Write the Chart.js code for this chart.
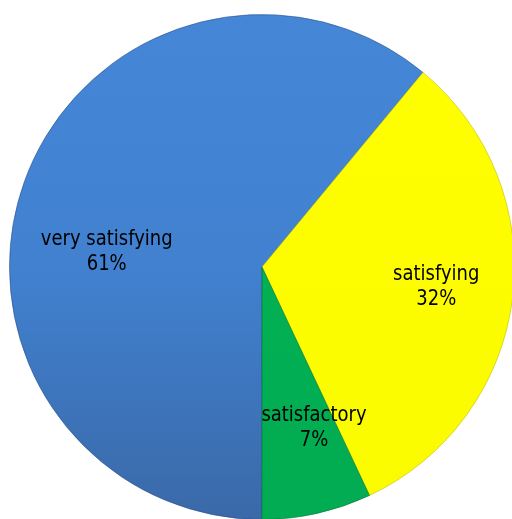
<!DOCTYPE html>
<html>
<head>
<meta charset="utf-8">
<script src="https://cdn.jsdelivr.net/npm/chart.js@4/dist/chart.umd.min.js"></script>
<style>
    html, body { margin: 0; padding: 0; background: #ffffff; overflow: hidden; }
    #wrap { width: 520px; height: 521px; }
</style>
</head>
<body>
<div id="wrap"><canvas id="chart" width="520" height="521"></canvas></div>
<script>
(function () {
    var categories = ['very satisfying', 'satisfying', 'satisfactory'];
    var values = [61, 32, 7];
    var percentLabels = ['61%', '32%', '7%'];

    // label anchor, as a fraction of the pie radius from its centre
    var labelOffsets = [[-0.615, -0.038], [0.690, 0.099], [0.206, 0.656]];

    var canvasElement = document.getElementById('chart');

    function sliceColor(context) {
        var chart = context.chart;
        var area = chart.chartArea;
        var i = context.dataIndex;
        if (!area) {
            return ['#4383d4', '#ffff00', '#00b050'][i];
        }
        var g = chart.ctx.createLinearGradient(0, area.top, 0, area.bottom);
        if (i === 0) {
            g.addColorStop(0, '#4586d7');
            g.addColorStop(0.5, '#4181d0');
            g.addColorStop(1, '#3a69a8');
        } else if (i === 1) {
            g.addColorStop(0, '#ffff00');
            g.addColorStop(1, '#fbfb00');
        } else {
            g.addColorStop(0, '#03b456');
            g.addColorStop(1, '#02ac52');
        }
        return g;
    }

    var sliceLabels = {
        id: 'sliceLabels',
        afterDatasetsDraw: function (chart) {
            var ctx = chart.ctx;
            var arcs = chart.getDatasetMeta(0).data;
            ctx.save();
            ctx.fillStyle = '#000000';
            ctx.font = '18px "DejaVu Sans", Verdana, sans-serif';
            ctx.textAlign = 'center';
            ctx.textBaseline = 'alphabetic';
            arcs.forEach(function (arc, i) {
                var r = arc.outerRadius;
                var cx = arc.x + labelOffsets[i][0] * r;
                var cy = arc.y + labelOffsets[i][1] * r;
                [[categories[i], cy - 12], [percentLabels[i], cy + 13]].forEach(function (line) {
                    ctx.save();
                    ctx.translate(cx, line[1]);
                    ctx.scale(1, 1.15);
                    ctx.fillText(line[0], 0, 0);
                    ctx.restore();
                });
            });
            ctx.restore();
        }
    };

    new Chart(canvasElement, {
        type: 'pie',
        data: {
            labels: categories,
            datasets: [{
                data: values,
                backgroundColor: sliceColor,
                borderColor: ['rgba(40,80,140,0.6)', 'rgba(190,190,0,0.6)', 'rgba(0,120,55,0.6)'],
                borderWidth: 1
            }]
        },
        options: {
            responsive: false,
            animation: false,
            rotation: 180,
            layout: { padding: { left: 9, right: 5, top: 14, bottom: 1 } },
            plugins: {
                legend: { display: false },
                tooltip: { enabled: false }
            }
        },
        plugins: [sliceLabels]
    });
})();
</script>
</body>
</html>
